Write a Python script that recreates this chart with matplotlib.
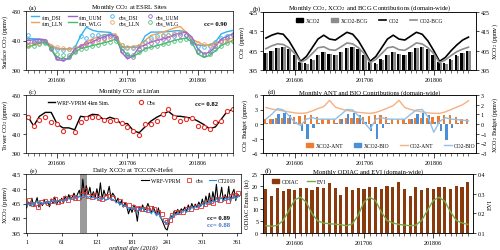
import matplotlib
matplotlib.use("Agg")
import matplotlib.pyplot as plt
import numpy as np
from matplotlib.lines import Line2D
from matplotlib.patches import Patch

plt.rcParams['font.family'] = ['Liberation Serif', 'DejaVu Serif']
plt.rcParams['font.size'] = 4.5
plt.rcParams['axes.linewidth'] = 0.5
plt.rcParams['xtick.major.width'] = 0.5
plt.rcParams['ytick.major.width'] = 0.5
plt.rcParams['xtick.minor.width'] = 0.4
plt.rcParams['mathtext.fontset'] = 'stix'

# ---------------- data ----------------
months = list(range(36))  # 2016-01 ... 2018-12
month_tick_pos = [5, 17, 29]
month_tick_labels = ['201606', '201706', '201806']

# (a) ESRL sites
sim_DSI = [411.5, 411.2, 410.8, 409.5, 406, 404.3, 404.3, 404.3, 404.8, 413, 419, 417, 416, 415.8, 415.5, 411, 406, 405.5,
           405.5, 405.5, 413, 415.7, 415.7, 415.8, 416, 416.5, 416.8, 415.7, 409, 406.8, 406.6, 407, 409, 414.5, 416, 416.8]
sim_LLN = [407.7, 408.5, 409, 409.3, 407, 404.5, 404.3, 404.3, 404.5, 406, 409, 411, 412.5, 413.9, 414.2, 414.5, 406, 405.5,
           406, 406.6, 410, 413.4, 414.5, 415.7, 417, 418.5, 419.5, 415.7, 411, 408.9, 407, 406.6, 408, 410, 411, 411.6]
sim_UUM = [410, 410.5, 411, 410.5, 404.3, 397, 396.4, 398, 404.3, 406, 407.7, 409, 411, 412.5, 413.9, 413.4, 402, 397.5,
           399.8, 405.5, 407, 409, 410, 411, 412, 414, 415, 415.7, 412.3, 404.3, 400.9, 402, 406, 411, 413, 414.5]
sim_WLG = [405.5, 407, 408, 408.9, 404.3, 398.5, 397.5, 397.5, 402, 404.5, 405.5, 406.5, 407.5, 408.5, 409.5, 411, 404.5, 399.8,
           399.3, 401.5, 404.3, 405.5, 406.5, 407.5, 408.9, 410, 411, 411.6, 408.9, 400.9, 398.6, 399.8, 403, 406.6, 408.5, 410]
obs_DSI = [413.5, 410, 409.5, 409, 405, 404, 403.5, 404.5, 405.5, 413, 412, 413.5, 414, 413, 414.5, 412, 407, 405,
           405, 406, 409, 412, 413, 413.5, 414, 414.5, 415, 414, 408, 406, 405.5, 406.5, 409, 412, 413, 414.5]
obs_LLN = [407, 408, 408.5, 409.5, 406, 405.5, 405, 404.5, 405, 406.5, 407.5, 409, 410, 411, 412, 412.5, 407, 405.5,
           405.5, 406, 408, 410.5, 412, 413, 414, 415, 415.5, 414, 410, 408.5, 407.5, 407, 408, 409, 409.5, 410]
obs_UUM = [409.5, 409, 410, 409.5, 404, 398, 397.5, 399, 403, 406, 408, 409.5, 411, 412, 413, 412, 403, 400,
           398.5, 404, 406.5, 408.5, 410, 411, 412, 413, 414, 413.5, 410, 403, 401, 403, 406, 410, 412, 413.5]
obs_WLG = [406, 406.5, 407.5, 408, 405, 401, 400, 400.5, 402.5, 404, 405, 406, 407, 408, 409, 410, 405, 401,
           400.5, 402, 404, 405.5, 406.5, 407.5, 408.5, 409.5, 410.5, 411, 409, 402.5, 400, 401, 404, 406.5, 408, 409.5]

# (b) domain-wide CO2 / XCO2
co2_total = [411.5, 413, 414, 413.5, 410, 405, 399.5, 402, 406.5, 411, 413, 411, 410.5, 412.5, 414.5, 413.5, 410, 405,
             399.5, 402, 406.5, 411, 413, 411, 410.5, 412.5, 414.5, 413.5, 410, 405, 399.5, 401.5, 405, 408, 410.5, 412]
co2_bcg = [406, 407.5, 408.5, 408.2, 406.5, 403.5, 399, 400.5, 403.5, 406.5, 407, 405.5, 405.2, 407, 409, 408.5, 406.5, 403.5,
           398.8, 400.5, 403.5, 406.5, 407, 405.5, 405.2, 407, 409, 408.5, 406.5, 403.5, 398.8, 400.2, 402.5, 404.5, 405.8, 406.8]
xco2_total = [404, 405, 406.5, 407, 406, 403, 399, 398.5, 400.5, 403, 404.5, 403.5, 403, 404.5, 406.5, 407, 406, 403,
              399, 398.5, 400.5, 403, 404.5, 403.5, 403, 404.5, 406.5, 407, 406, 403, 399, 398.5, 400.5, 402.5, 404, 405]
xco2_bcg = [403.7, 404.7, 406.2, 406.8, 405.8, 402.8, 398.8, 398.3, 400.2, 402.7, 404.2, 403.2, 402.7, 404.2, 406.2, 406.8, 405.8, 402.8,
            398.8, 398.3, 400.2, 402.7, 404.2, 403.2, 402.7, 404.2, 406.2, 406.8, 405.8, 402.8, 398.8, 398.3, 400.2, 402.2, 403.7, 404.7]

# (c) Lin'an tower
linan_sim = [428, 418, 428, 432, 432, 420, 416, 416, 414, 428, 427, 430, 429.5, 424, 427, 425, 420, 420.5,
             413, 411, 417, 423, 427, 430, 433, 428, 428, 427, 426, 423, 419.5, 415, 417, 425, 433, 435]
linan_obs = [427.4, 418.1, 424, 427, 422.2, 419.5, 412.3, 427.7, 411.3, 421.6, 425.7, 427.4, 427.4, 424, 422.9, 424.6, 421.2, 417.4,
             413, 408.9, 419.9, 419.9, 423.3, 430.1, 435.6, 427.4, 423.3, 425.3, 426, 418.1, 416.4, 414.7, 421.9, 423, 433.2, 435.6]

# (d) ANT / BIO contributions
xco2_ant = [0.5, 0.55, 0.6, 0.6, 0.6, 0.7, 0.85, 0.9, 0.9, 0.75, 0.55, 0.5, 0.5, 0.55, 0.6, 0.6, 0.6, 0.7,
            0.85, 0.9, 0.9, 0.75, 0.55, 0.5, 0.5, 0.55, 0.6, 0.6, 0.6, 0.7, 0.85, 0.9, 0.9, 0.75, 0.55, 0.5]
xco2_bio = [0.1, 0.5, 1.0, 1.1, 0.9, 0.2, -0.7, -1.6, -0.4, 0.1, 0.05, 0.05, 0.1, 0.5, 1.0, 1.1, 0.9, 0.2,
            -0.7, -1.6, -0.4, 0.1, 0.05, 0.05, 0.1, 0.5, 1.0, 1.1, 0.9, 0.2, -0.7, -1.7, -0.4, 0.1, 0.05, 0.05]
co2_ant = [3.4, 3.1, 2.9, 2.7, 2.5, 2.3, 2.2, 2.3, 2.7, 3.2, 3.6, 4.9, 3.5, 3.1, 2.8, 2.6, 2.4, 2.3,
           2.2, 2.4, 2.8, 3.3, 3.8, 4.9, 3.4, 3.0, 2.7, 2.5, 2.3, 2.2, 2.2, 2.5, 3.0, 3.5, 4.0, 4.8]
co2_bio = [1.0, 2.0, 3.2, 2.9, 1.7, 0.3, -0.3, 1.0, 1.3, 1.0, 1.0, 1.0, 1.0, 2.0, 3.0, 2.9, 1.7, 0.3,
           -1.1, 1.0, 1.3, 1.0, 1.0, 1.0, 1.0, 2.0, 2.9, 3.0, 1.5, -1.7, 0.5, 1.3, 1.0, 0.9, 0.8, 0.65]

# (e) TCCON-Hefei daily
model_days = list(range(1, 366, 3))
wrf_daily = [403.5, 405.5, 404.2, 406.8, 404.0, 405.2, 407.0, 403.8, 405.5, 404.3, 406.2, 404.8, 405.9, 403.9, 406.5, 405.0, 407.2, 404.6, 406.0, 405.3,
             406.8, 405.2, 407.5, 406.0, 408.0, 406.5, 407.2, 408.5, 406.8, 408.2,
             409.5, 406.5, 413.2, 407.5, 411.0, 408.0, 410.5, 407.2, 409.0, 406.8,
             410.0, 407.0, 412.0, 406.5, 409.5, 407.5, 408.2, 410.8, 407.0, 408.5,
             407.5, 405.5, 406.8, 404.5, 406.0, 403.8, 405.2, 404.0, 401.5, 403.5,
             402.0, 404.5, 403.0, 399.0, 403.8, 402.5, 404.5, 402.8, 403.2, 405.0,
             403.5, 401.8, 404.0, 402.5, 401.0, 403.5, 400.5, 399.5, 398.0, 396.5,
             396.0, 398.5, 401.0, 400.0, 402.5, 401.5, 403.0, 401.8, 403.2, 402.5,
             403.8, 402.2, 404.5, 403.0, 405.0, 403.5, 404.8, 403.8, 405.5, 404.0,
             406.5, 404.2, 407.5, 405.0, 408.5, 404.8, 409.0, 406.0, 411.5, 405.5,
             407.0, 410.5, 405.8, 408.0, 406.2, 410.8, 405.5, 408.5, 409.8, 406.0, 408.2, 407.5]
ct_daily = [404.0, 405.0, 404.5, 405.5, 404.3, 405.2, 405.8, 404.6, 405.4, 404.8, 405.6, 405.0, 405.8, 404.9, 406.0, 405.5, 406.2, 405.4, 406.0, 405.8,
            406.2, 405.8, 406.5, 406.0, 406.8, 406.3, 407.0, 406.6, 407.2, 406.8,
            407.5, 406.8, 408.0, 407.2, 407.8, 407.0, 407.5, 406.8, 407.2, 406.5,
            407.0, 406.2, 407.2, 406.5, 406.8, 406.0, 406.5, 407.0, 406.2, 406.5,
            406.0, 405.2, 405.5, 404.6, 405.0, 404.0, 404.5, 403.8, 403.0, 403.6,
            403.0, 403.8, 403.2, 402.0, 403.5, 402.8, 403.6, 402.5, 402.2, 403.0,
            402.5, 401.5, 402.8, 401.8, 400.8, 402.0, 400.5, 399.8, 399.0, 398.5,
            398.0, 399.2, 400.5, 400.2, 401.5, 401.0, 402.0, 401.5, 402.3, 402.0,
            402.8, 402.0, 403.2, 402.8, 403.8, 403.2, 404.0, 403.5, 404.5, 404.0,
            405.0, 404.2, 405.5, 404.8, 406.0, 405.0, 406.2, 405.5, 406.8, 405.8,
            406.5, 407.0, 405.8, 406.8, 406.2, 407.2, 406.0, 407.0, 407.5, 406.5, 407.2, 407.5]
obs_days = [5, 12, 20, 25, 33, 38, 45, 50, 55, 60, 66, 72, 78, 84, 88, 95, 100, 106, 112, 118,
            125, 130, 136, 142, 148, 160, 168, 175, 182, 188, 192, 198, 203, 208, 213, 218, 225, 232, 238, 241,
            245, 250, 256, 262, 268, 275, 282, 290, 298, 305, 310, 315, 320, 326, 332, 338, 344, 350, 356, 362]
obs_xco2 = [406.2, 405.0, 403.8, 405.6, 406.0, 405.2, 405.8, 406.5, 405.5, 406.0, 406.8, 406.2, 407.2, 406.8, 407.0, 408.0, 409.5, 407.5, 407.2, 407.8,
            407.0, 406.5, 407.2, 407.5, 406.8, 405.8, 405.0, 404.5, 403.8, 403.2, 403.5, 403.0, 403.2, 402.8, 403.5, 403.0, 402.0, 401.5, 399.5, 398.6,
            399.5, 401.0, 402.0, 402.2, 402.0, 403.0, 403.2, 403.8, 404.0, 405.0, 405.5, 406.0, 405.2, 406.5, 406.2, 407.0, 406.0, 407.5, 408.0, 408.5]
shade_days = [92, 104]
day_ticks = [1, 61, 121, 181, 241, 301, 361]

# (f) ODIAC and EVI
odiac = [18.7, 15.6, 19.1, 18.0, 18.8, 18.3, 19.1, 19.1, 18.4, 19.4, 19.1, 21.1, 19.0, 15.9, 19.5, 18.3, 19.2, 18.5,
         19.4, 19.5, 18.7, 19.8, 19.5, 21.5, 18.8, 15.7, 19.4, 18.3, 19.1, 18.5, 19.4, 19.4, 18.5, 19.8, 19.5, 21.5]
evi = [0.137, 0.134, 0.139, 0.164, 0.215, 0.269, 0.282, 0.257, 0.198, 0.161, 0.151, 0.147, 0.145, 0.142, 0.137, 0.147, 0.19, 0.257,
       0.282, 0.265, 0.207, 0.164, 0.151, 0.144, 0.140, 0.137, 0.140, 0.164, 0.215, 0.265, 0.282, 0.262, 0.207, 0.164, 0.151, 0.144]

# ---------------- figure ----------------
W, H = 500, 251
fig = plt.figure(figsize=(W / 100, H / 100), dpi=100)
TK = 4.3   # tick label size
LB = 4.6   # axis label size
TT = 4.8   # title size
LG = 4.0   # legend size

def box(l, t, r, b):
    return [l / W, 1 - b / H, (r - l) / W, (b - t) / H]

def month_axis(ax, xlim):
    ax.set_xlim(*xlim)
    ax.set_xticks(month_tick_pos)
    ax.set_xticklabels(month_tick_labels)
    ax.set_xticks(months, minor=True)
    ax.tick_params(axis='x', which='major', length=3.5, pad=1.2, labelsize=TK)
    ax.tick_params(axis='x', which='minor', length=1.8)
    ax.tick_params(axis='y', length=2, pad=1.5, labelsize=TK)

def head(ax, label, title, lx):
    ax.set_title(title, fontsize=TT, pad=1.0)
    ax.text(lx, 1.015, label, transform=ax.transAxes, ha='left', va='bottom', fontsize=5.2)

# ---- (a)
ax = fig.add_axes(box(26, 12, 233, 71))
cols = {'DSI': '#2fb4ee', 'LLN': '#f4a05c', 'UUM': '#a062d0', 'WLG': '#46bb72'}
sims = {'DSI': sim_DSI, 'LLN': sim_LLN, 'UUM': sim_UUM, 'WLG': sim_WLG}
obss = {'DSI': obs_DSI, 'LLN': obs_LLN, 'UUM': obs_UUM, 'WLG': obs_WLG}
hs = []
for k in ['DSI', 'LLN', 'UUM', 'WLG']:
    h, = ax.plot(months, sims[k], color=cols[k], lw=1.0, label='sim_' + k)
    hs.append(h)
for k in ['DSI', 'LLN', 'UUM', 'WLG']:
    h, = ax.plot(months, obss[k], 'o', mfc='none', mec=cols[k], ms=2.6, mew=0.6, label='obs_' + k)
    hs.append(h)
ax.set_ylim(390, 430)
ax.set_yticks([390, 410, 430])
month_axis(ax, (-0.3, 35.0))
ax.set_ylabel('Surface CO$_2$ (ppmv)', fontsize=LB, labelpad=1.5)
head(ax, '(a)', 'Monthly CO$_2$ at ESRL Sites', 0.015)
ax.legend(handles=hs, ncol=4, loc='upper left', bbox_to_anchor=(0.0, 1.03), frameon=False, fontsize=LG,
          handlelength=1.5, columnspacing=1.0, handletextpad=0.4, labelspacing=0.2)
ax.text(0.97, 0.78, 'cc= 0.90', transform=ax.transAxes, ha='right', va='center', fontsize=4.8, fontweight='bold')

# ---- (b)
axb = fig.add_axes(box(263, 13, 476, 71))
axb2 = axb.twinx()
x = np.array(months)
axb2.bar(x - 0.2, np.array(xco2_total) - 395, bottom=395, width=0.4, color='black', label='XCO2')
axb2.bar(x + 0.2, np.array(xco2_bcg) - 395, bottom=395, width=0.4, color='#8c8c8c', label='XCO2-BCG')
axb.plot(months, co2_total, color='black', lw=1.2, label='CO2')
axb.plot(months, co2_bcg, color='#8c8c8c', lw=1.2, label='CO2-BCG')
axb.set_zorder(axb2.get_zorder() + 1)
axb.patch.set_visible(False)
for a_ in (axb, axb2):
    a_.set_ylim(395, 425)
    a_.set_yticks([395, 405, 415, 425])
month_axis(axb, (-0.5, 36.3))
axb2.tick_params(axis='y', length=2, pad=1.2, labelsize=TK)
axb.set_ylabel('CO$_2$ (ppmv)', fontsize=LB, labelpad=1.5)
axb2.set_ylabel('XCO$_2$ (ppmv)', fontsize=4.4)
axb2.yaxis.set_label_coords(1.068, 0.5)
head(axb, '(b)', 'Monthly CO$_2$, XCO$_2$ and BCG Contributions (domain-wide)', -0.05)
hb = [Patch(color='black'), Patch(color='#8c8c8c'), Line2D([], [], color='black', lw=1.2), Line2D([], [], color='#8c8c8c', lw=1.2)]
axb.legend(hb, ['XCO2', 'XCO2-BCG', 'CO2', 'CO2-BCG'], ncol=4, loc='upper center', bbox_to_anchor=(0.5, 0.98),
           frameon=False, fontsize=LG, handlelength=1.3, columnspacing=2.0, handletextpad=0.4)

# ---- (c)
axc = fig.add_axes(box(26, 96, 233, 154))
axc.plot(months, linan_sim, color='black', lw=1.0, label='WRF-VPRM 4km Sim.')
axc.plot(months, linan_obs, 'o', mfc='white', mec='#e8302a', ms=3.0, mew=0.8, label='Obs')
axc.set_ylim(390, 450)
axc.set_yticks([390, 410, 430, 450])
month_axis(axc, (-0.3, 35.0))
axc.set_ylabel('Tower CO$_2$ (ppmv)', fontsize=LB, labelpad=1.5)
head(axc, '(c)', "Monthly CO$_2$ at Lin'an", 0.015)
axc.legend(ncol=2, loc='upper left', bbox_to_anchor=(0.08, 1.0), frameon=False, fontsize=LG,
           handlelength=1.3, columnspacing=5, handletextpad=0.4)
axc.text(0.93, 0.86, 'cc= 0.82', transform=axc.transAxes, ha='right', va='center', fontsize=4.8, fontweight='bold')

# ---- (d)
axd = fig.add_axes(box(263, 96, 476, 154))
axd2 = axd.twinx()
axd2.bar(x - 0.2, xco2_ant, width=0.4, color='#ed7d31', label='XCO2-ANT')
axd2.bar(x + 0.2, xco2_bio, width=0.4, color='#4a90d9', label='XCO2-BIO')
axd.plot(months, co2_ant, color='#f4b183', lw=1.0, label='CO2-ANT')
axd.plot(months, co2_bio, color='#8fc1ea', lw=1.0, label='CO2-BIO')
axd.set_zorder(axd2.get_zorder() + 1)
axd.patch.set_visible(False)
axd.set_ylim(-6, 6)
axd.set_yticks([-6, -3, 0, 3, 6])
axd2.set_ylim(-3, 3)
axd2.set_yticks([-3, -2, -1, 0, 1, 2, 3])
month_axis(axd, (-0.5, 36.3))
axd2.tick_params(axis='y', length=2, pad=1.2, labelsize=TK)
axd.set_ylabel('CO$_2$ Budget (ppmv)', fontsize=LB, labelpad=1.5)
axd2.set_ylabel('XCO$_2$ Budget (ppmv)', fontsize=4.4)
axd2.yaxis.set_label_coords(1.068, 0.5)
head(axd, '(d)', 'Monthly ANT and BIO Contributions (domain-wide)', 0.02)
hd = [Patch(color='#ed7d31'), Patch(color='#4a90d9'), Line2D([], [], color='#f4b183', lw=1.0), Line2D([], [], color='#8fc1ea', lw=1.0)]
axd.legend(hd, ['XCO2-ANT', 'XCO2-BIO', 'CO2-ANT', 'CO2-BIO'], ncol=4, loc='lower center', bbox_to_anchor=(0.6, 0.0),
           frameon=False, fontsize=LG, handlelength=1.3, columnspacing=2.0, handletextpad=0.4)

# ---- (e)
axe = fig.add_axes(box(26, 175, 241, 234))
axe.axvspan(shade_days[0], shade_days[1], color='#9a9a9a', lw=0)
axe.plot(model_days, wrf_daily, color='black', lw=0.8, label='WRF-VPRM')
axe.plot(obs_days, obs_xco2, 's', mfc='none', mec='#e8302a', ms=2.4, mew=0.6, label='obs')
axe.plot(model_days, ct_daily, color='#2b8fe0', lw=0.8, label='CT2019')
axe.set_xlim(0, 367)
axe.set_ylim(395, 415)
axe.set_yticks([395, 400, 405, 410, 415])
axe.set_xticks(day_ticks)
axe.tick_params(axis='x', length=2.5, pad=1.5, labelsize=TK)
axe.tick_params(axis='y', length=2, pad=1.5, labelsize=TK)
axe.set_xlabel('ordinal day (2016)', fontsize=LB, labelpad=0.5, style='italic')
axe.set_ylabel('XCO$_2$ (ppmv)', fontsize=LB, labelpad=1.5)
axe.set_title('Daily XCO$_2$ at TCCON-Hefei', fontsize=TT, pad=0.3)
axe.text(0.015, 1.015, '(e)', transform=axe.transAxes, ha='left', va='bottom', fontsize=5.2)
axe.legend(ncol=3, loc='upper right', bbox_to_anchor=(1.0, 1.02), frameon=False, fontsize=LG,
           handlelength=1.3, columnspacing=1.0, handletextpad=0.4)
axe.text(0.95, 0.27, 'cc= 0.89', transform=axe.transAxes, ha='right', va='center', fontsize=4.8, fontweight='bold')
axe.text(0.95, 0.14, 'cc= 0.88', transform=axe.transAxes, ha='right', va='center', fontsize=4.8, fontweight='bold', color='#4472c4')

# ---- (f)
axf = fig.add_axes(box(263, 175, 473, 234))
axf2 = axf.twinx()
axf.bar(months, odiac, width=0.55, color='#8b3a0e', label='ODIAC')
axf2.plot(months, evi, color='#70ad47', lw=1.0, label='EVI')
axf.set_ylim(0, 25)
axf.set_yticks([0, 5, 10, 15, 20, 25])
axf2.set_ylim(0.1, 0.4)
axf2.set_yticks([0.1, 0.2, 0.3, 0.4])
month_axis(axf, (-0.5, 35.9))
axf2.tick_params(axis='y', length=2, pad=1.5, labelsize=TK)
axf.set_ylabel('ODIAC Emiss. (kt)', fontsize=LB, labelpad=1.5)
axf2.set_ylabel('EVI', fontsize=LB, labelpad=1.5)
head(axf, '(f)', 'Monthly ODIAC and EVI (domain-wide)', 0.01)
hf = [Patch(color='#8b3a0e'), Line2D([], [], color='#70ad47', lw=1.0)]
axf.legend(hf, ['ODIAC', 'EVI'], ncol=2, loc='upper left', bbox_to_anchor=(0.02, 1.0), frameon=False, fontsize=LG,
           handlelength=1.3, columnspacing=1.5, handletextpad=0.4)

fig.savefig('out.png', dpi=100)
